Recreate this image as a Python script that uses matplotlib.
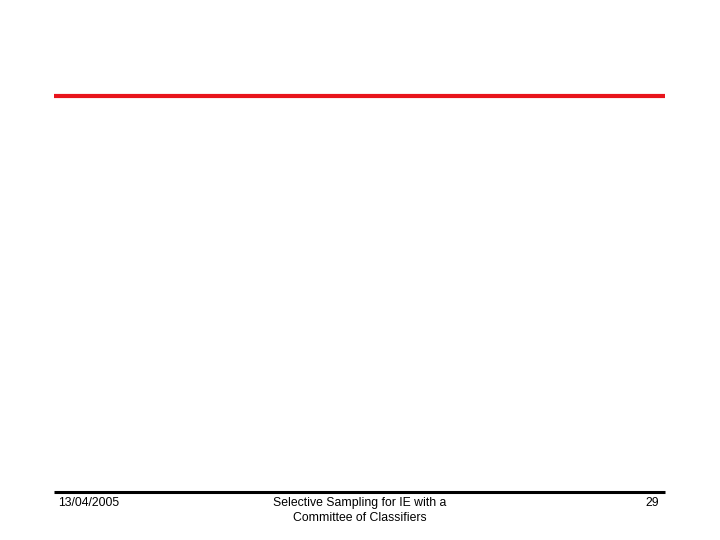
import matplotlib
matplotlib.use("Agg")
import matplotlib.pyplot as plt

# slide footer content
footer_date = "13/04/2005"
footer_title = "Selective Sampling for IE with a\nCommittee of Classifiers"
footer_page = "29"

# rule lines: (y, x_start, x_end)
red_rule = (96, 54, 665)
black_rule = (492, 54, 665)

fig = plt.figure(figsize=(7.2, 5.4), dpi=100)
ax = fig.add_axes([0, 0, 1, 1])
ax.set_xlim(0, 720)
ax.set_ylim(540, 0)
ax.axis("off")

ax.plot([red_rule[1], red_rule[2]], [red_rule[0], red_rule[0]],
        color="#e8141c", linewidth=3.0, solid_capstyle="butt")
ax.plot([black_rule[1], black_rule[2]], [black_rule[0], black_rule[0]],
        color="black", linewidth=2.2, solid_capstyle="butt")

font = dict(family="Liberation Sans", fontsize=8.8, color="black")
ax.text(58, 503, footer_date, ha="left", va="center", **font)
ax.text(360, 510.5, footer_title, ha="center", va="center",
        linespacing=1.3, **font)
ax.text(659, 503, footer_page, ha="right", va="center", **font)

fig.savefig("out.png", dpi=100)
